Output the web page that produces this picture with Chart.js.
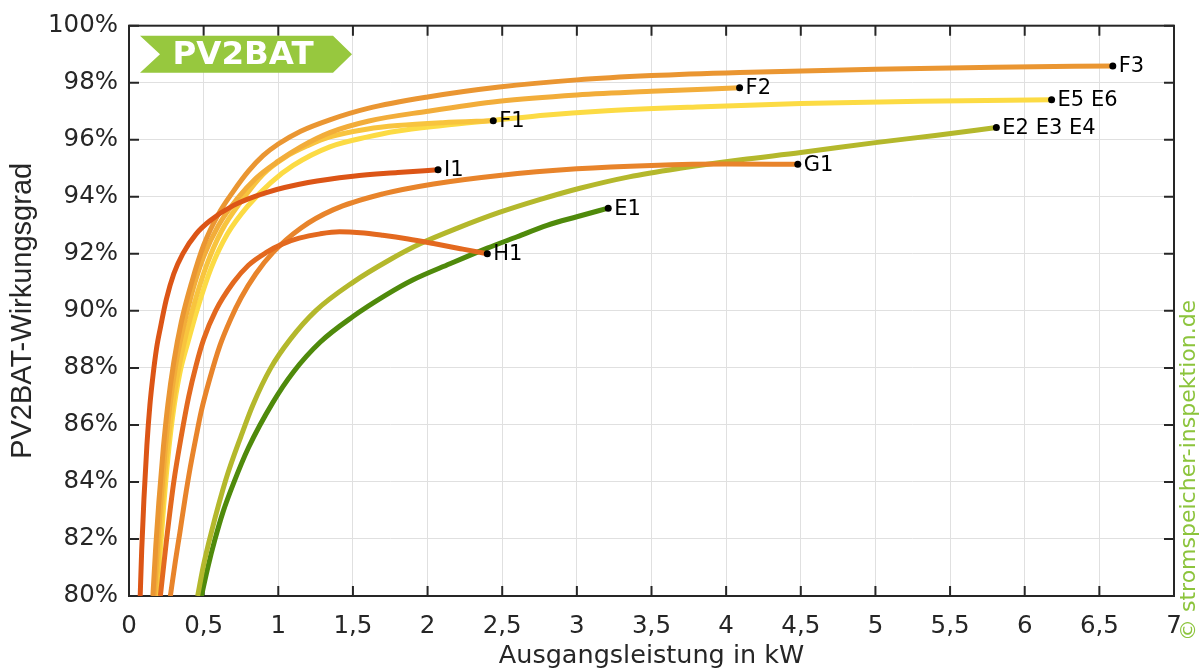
<!DOCTYPE html>
<html>
<head>
<meta charset="utf-8">
<script src="https://cdn.jsdelivr.net/npm/chart.js@4.4.0/dist/chart.umd.min.js"></script>
<style>
  html, body { margin: 0; padding: 0; background: #fff; }
</style>
</head>
<body>
<canvas id="chart" width="1203" height="670"></canvas>
<script>
// Ausgangsleistung (kW) und Wirkungsgrad (%) je System
const i1Power = [0.075, 0.085, 0.1, 0.12, 0.14, 0.16, 0.185, 0.21, 0.25, 0.3, 0.36, 0.45, 0.54, 0.7, 0.92, 1.2, 1.5, 1.8, 2.07];
const i1Eff   = [80, 81.6, 83.4, 85.3, 86.7, 87.7, 88.7, 89.4, 90.4, 91.3, 92.0, 92.7, 93.15, 93.7, 94.15, 94.5, 94.72, 94.85, 94.95];

const h1Power = [0.21, 0.25, 0.3, 0.35, 0.4, 0.45, 0.5, 0.58, 0.7, 0.8, 0.92, 1.03, 1.14, 1.28, 1.41, 1.55, 1.7, 1.87, 2.04, 2.22, 2.4];
const h1Eff   = [80, 81.9, 84.0, 85.6, 87.0, 88.1, 89.0, 90.0, 91.0, 91.6, 92.05, 92.35, 92.55, 92.7, 92.77, 92.74, 92.65, 92.52, 92.36, 92.18, 92.0];

const g1Power = [0.277, 0.31, 0.34, 0.375, 0.41, 0.45, 0.485, 0.54, 0.61, 0.68, 0.75, 0.85, 0.965, 1.15, 1.37, 1.7, 2.04, 2.48, 3.0, 3.5, 4.0, 4.48];
const g1Eff   = [80, 81.2, 82.2, 83.4, 84.5, 85.6, 86.5, 87.6, 88.8, 89.7, 90.45, 91.3, 92.05, 92.9, 93.55, 94.1, 94.45, 94.75, 94.98, 95.1, 95.15, 95.14];

const f3Power = [0.16, 0.18, 0.2, 0.23, 0.26, 0.3, 0.35, 0.42, 0.5, 0.6, 0.7, 0.8, 0.9, 1.0, 1.15, 1.345, 1.6, 2.0, 2.48, 3.0, 3.5, 4.09, 5.0, 5.8, 6.59];
const f3Eff   = [80, 81.8, 83.3, 85.2, 86.7, 88.2, 89.6, 91.0, 92.3, 93.4, 94.2, 94.9, 95.45, 95.85, 96.3, 96.7, 97.1, 97.5, 97.85, 98.1, 98.25, 98.36, 98.47, 98.54, 98.59];

const f2Power = [0.17, 0.19, 0.21, 0.24, 0.27, 0.31, 0.35, 0.42, 0.5, 0.6, 0.72, 0.85, 1.0, 1.15, 1.345, 1.6, 2.0, 2.48, 3.0, 3.5, 4.09];
const f2Eff   = [80, 81.7, 83.1, 85.0, 86.5, 88.0, 89.1, 90.6, 91.9, 93.0, 93.9, 94.65, 95.25, 95.75, 96.25, 96.65, 97.0, 97.35, 97.57, 97.7, 97.82];

const f1Power = [0.18, 0.2, 0.22, 0.25, 0.28, 0.32, 0.37, 0.44, 0.52, 0.62, 0.76, 0.9, 1.05, 1.2, 1.345, 1.6, 1.8, 2.1, 2.44];
const f1Eff   = [80, 81.6, 83.0, 84.8, 86.2, 87.6, 88.9, 90.3, 91.6, 92.8, 93.9, 94.8, 95.4, 95.8, 96.1, 96.38, 96.5, 96.6, 96.67];

const e5Power = [0.19, 0.21, 0.23, 0.26, 0.29, 0.34, 0.395, 0.46, 0.55, 0.66, 0.8, 0.95, 1.1, 1.345, 1.6, 1.79, 2.1, 2.44, 2.8, 3.15, 3.8, 4.5, 5.3, 6.18];
const e5Eff   = [80, 81.6, 83.0, 84.8, 86.2, 87.8, 88.9, 90.1, 91.5, 92.7, 93.7, 94.5, 95.1, 95.75, 96.1, 96.3, 96.5, 96.68, 96.87, 97.0, 97.15, 97.27, 97.35, 97.4];

const e2Power = [0.46, 0.5, 0.55, 0.65, 0.75, 0.83, 0.95, 1.08, 1.25, 1.5, 1.75, 1.95, 2.2, 2.48, 2.75, 3.02, 3.35, 3.69, 4.1, 4.5, 5.0, 5.4, 5.81];
const e2Eff   = [80, 81.1, 82.2, 84.1, 85.6, 86.7, 88.0, 89.0, 90.0, 91.0, 91.8, 92.35, 92.9, 93.45, 93.9, 94.3, 94.7, 95.0, 95.3, 95.55, 95.9, 96.15, 96.43];

const e1Power = [0.485, 0.53, 0.574, 0.63, 0.7, 0.8, 0.965, 1.1, 1.28, 1.5, 1.72, 1.9, 2.15, 2.4, 2.6, 2.8, 3.0, 3.21];
const e1Eff   = [80, 81.05, 81.95, 82.95, 83.95, 85.2, 86.8, 87.85, 88.9, 89.8, 90.55, 91.08, 91.65, 92.2, 92.6, 93.0, 93.3, 93.6];

const seriesLabels = ['I1', 'H1', 'G1', 'F3', 'F2', 'F1', 'E5 E6', 'E2 E3 E4', 'E1'];
const seriesPower  = [i1Power, h1Power, g1Power, f3Power, f2Power, f1Power, e5Power, e2Power, e1Power];
const seriesEff    = [i1Eff, h1Eff, g1Eff, f3Eff, f2Eff, f1Eff, e5Eff, e2Eff, e1Eff];
const seriesColors = ['#dc5516', '#e3691f', '#e8842b', '#ea9632', '#f2ad3a', '#f8c43e', '#fcdb44', '#b4b82c', '#4f8a0b'];

const xTicks = [0, 0.5, 1, 1.5, 2, 2.5, 3, 3.5, 4, 4.5, 5, 5.5, 6, 6.5, 7];
const yTicks = [80, 82, 84, 86, 88, 90, 92, 94, 96, 98, 100];

const tickFont = { family: 'DejaVu Sans', size: 24.5 };
const dark = '#262626';

const datasets = seriesLabels.map((name, i) => ({
  label: name,
  data: seriesPower[i].map((p, k) => ({ x: p, y: seriesEff[i][k] })),
  borderColor: seriesColors[i],
  borderWidth: 5,
  fill: false,
  cubicInterpolationMode: 'monotone',
  pointRadius: ctx => ctx.dataIndex === seriesPower[i].length - 1 ? 3.5 : 0,
  pointBackgroundColor: '#000',
  pointBorderWidth: 0
}));

// Rahmen mit Ticks nach innen (wie MATLAB)
const framePlugin = {
  id: 'frame',
  beforeDatasetsDraw(chart) {
    const { ctx, chartArea: a, scales: { x, y } } = chart;
    ctx.save();
    ctx.strokeStyle = dark;
    ctx.lineWidth = 2;
    ctx.beginPath();
    xTicks.forEach(v => {
      const px = x.getPixelForValue(v);
      ctx.moveTo(px, a.bottom); ctx.lineTo(px, a.bottom - 10);
      ctx.moveTo(px, a.top); ctx.lineTo(px, a.top + 10);
    });
    yTicks.forEach(v => {
      const py = y.getPixelForValue(v);
      ctx.moveTo(a.left, py); ctx.lineTo(a.left + 10, py);
      ctx.moveTo(a.right, py); ctx.lineTo(a.right - 10, py);
    });
    ctx.stroke();
    ctx.strokeRect(a.left, a.top, a.right - a.left, a.bottom - a.top);
    ctx.restore();
  }
};

// Beschriftung der Endpunkte, Logo und Copyright
const extrasPlugin = {
  id: 'extras',
  afterDraw(chart) {
    const { ctx, chartArea: a } = chart;
    ctx.save();
    ctx.fillStyle = '#000';
    ctx.font = '21px "DejaVu Sans"';
    ctx.textAlign = 'left';
    ctx.textBaseline = 'middle';
    chart.data.datasets.forEach((ds, i) => {
      const pts = chart.getDatasetMeta(i).data;
      const last = pts[pts.length - 1];
      ctx.fillText(ds.label, last.x + 6, last.y + 1);
    });

    // PV2BAT-Banner
    const bx = a.left + 11, by = a.top + 10, bw = 212, bh = 37;
    ctx.fillStyle = '#97c83e';
    ctx.beginPath();
    ctx.moveTo(bx, by);
    ctx.lineTo(bx + bw - 19, by);
    ctx.lineTo(bx + bw, by + bh / 2);
    ctx.lineTo(bx + bw - 19, by + bh);
    ctx.lineTo(bx, by + bh);
    ctx.lineTo(bx + 20, by + bh / 2);
    ctx.closePath();
    ctx.fill();
    ctx.fillStyle = '#fff';
    ctx.font = 'bold 32.5px "DejaVu Sans"';
    ctx.textAlign = 'center';
    ctx.fillText('PV2BAT', bx + 103, by + bh / 2 + 1);

    // Copyright senkrecht
    ctx.translate(a.right + 15, 641);
    ctx.rotate(-Math.PI / 2);
    ctx.fillStyle = '#8cc43c';
    ctx.font = '22px "DejaVu Sans"';
    ctx.textAlign = 'left';
    ctx.textBaseline = 'middle';
    ctx.fillText('\u00a9 stromspeicher-inspektion.de', 0, 0);
    ctx.restore();
  }
};

new Chart(document.getElementById('chart'), {
  type: 'line',
  data: { datasets },
  options: {
    responsive: false,
    devicePixelRatio: 1,
    animation: false,
    layout: { padding: { top: 23, right: 29, left: 0, bottom: 0 } },
    plugins: { legend: { display: false }, tooltip: { enabled: false } },
    scales: {
      x: {
        type: 'linear',
        min: 0, max: 7,
        afterFit: s => { s.height = 74; },
        afterBuildTicks: s => { s.ticks = xTicks.map(v => ({ value: v })); },
        grid: { color: '#e0e0e0', lineWidth: 1, drawTicks: false },
        border: { display: false },
        ticks: {
          font: tickFont, color: dark, padding: 16, maxRotation: 0,
          callback: v => String(v).replace('.', ',')
        },
        title: {
          display: true, text: 'Ausgangsleistung in kW', color: dark,
          font: { family: 'DejaVu Sans', size: 25.5, lineHeight: 1 }, padding: { top: 0, bottom: 1 }
        }
      },
      y: {
        type: 'linear',
        min: 80, max: 100,
        afterFit: s => { s.width = 129; },
        afterBuildTicks: s => { s.ticks = yTicks.map(v => ({ value: v })); },
        grid: { color: '#e0e0e0', lineWidth: 1, drawTicks: false },
        border: { display: false },
        ticks: { font: tickFont, color: dark, padding: 11, callback: v => v + '%' },
        title: {
          display: true, text: 'PV2BAT-Wirkungsgrad', color: dark,
          font: { family: 'Liberation Sans', size: 29, lineHeight: 1.2 }, padding: { top: 6, bottom: 0 }
        }
      }
    }
  },
  plugins: [framePlugin, extrasPlugin]
});
</script>
</body>
</html>
